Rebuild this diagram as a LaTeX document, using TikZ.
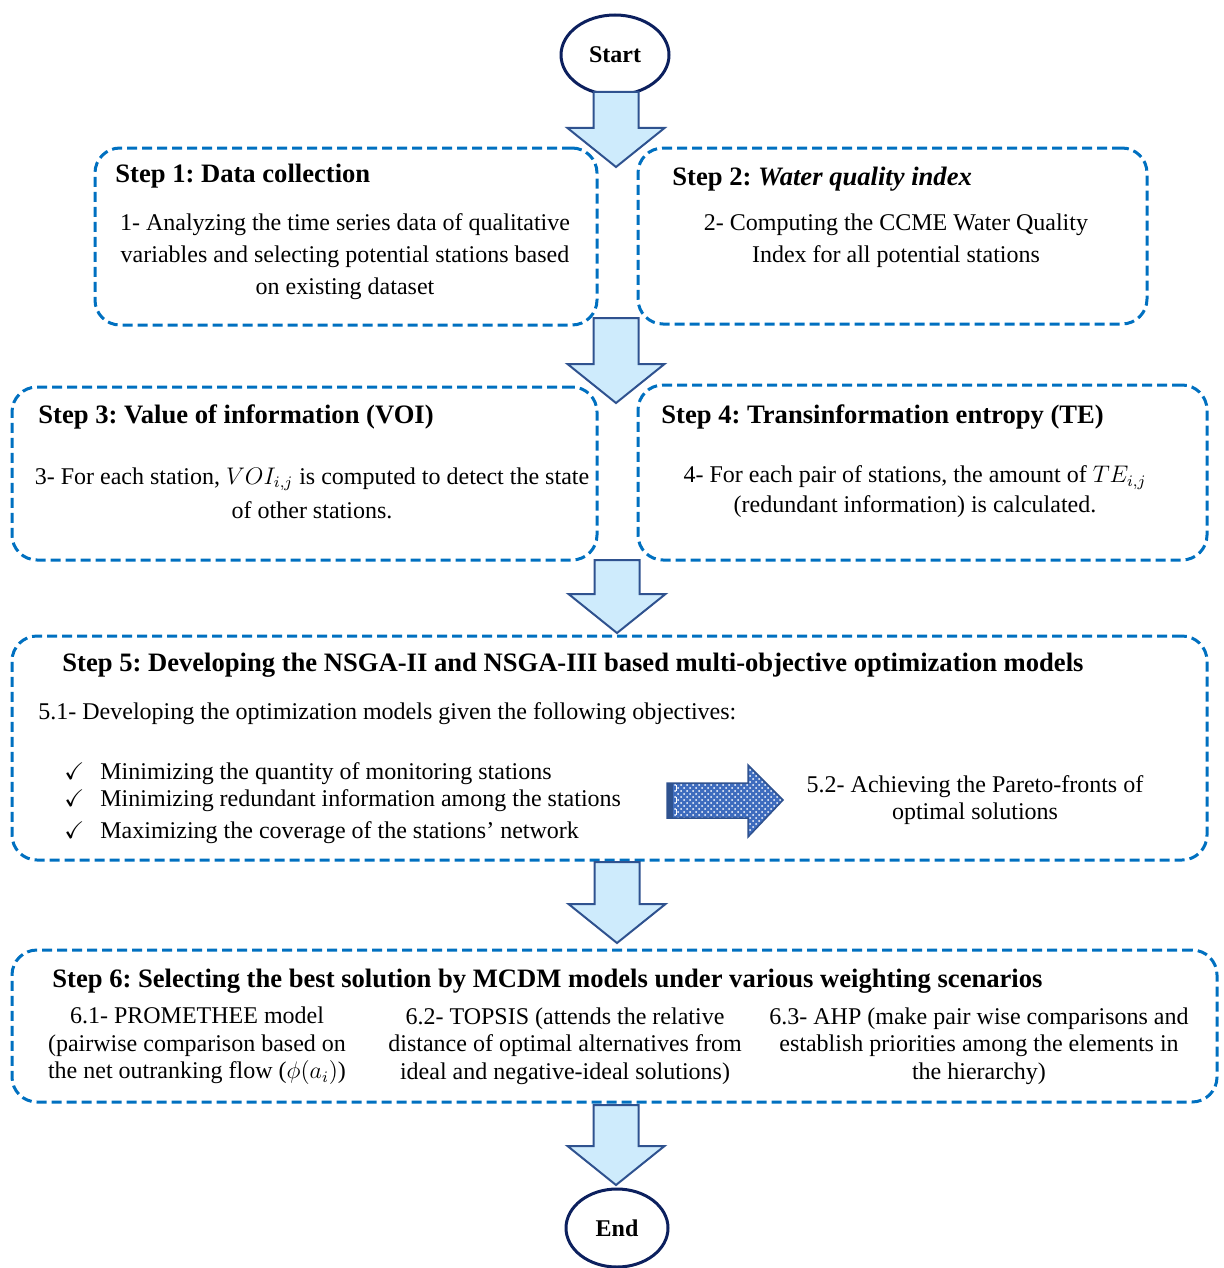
\documentclass[tikz,border=0pt]{standalone}
\usepackage{fontspec}
\setmainfont{Liberation Serif}
\usepackage{amssymb}
\usetikzlibrary{shapes.geometric,patterns}
\frenchspacing

\definecolor{boxblue}{RGB}{0,112,192}
\definecolor{arrowfill}{RGB}{206,235,252}
\definecolor{arrowline}{RGB}{47,82,143}
\definecolor{navy}{RGB}{12,32,94}
\definecolor{patblue}{RGB}{62,108,190}

\tikzset{
  stepbox/.style={draw=boxblue, line width=1.5pt, dash pattern=on 5pt off 2.5pt,
    rounded corners=12.5pt, inner sep=0pt},
  terminal/.style={ellipse, draw=navy, line width=1.5pt, fill=white, inner sep=0pt,
    font=\fontsize{12}{14}\selectfont\bfseries},
  arrowbody/.style={draw=arrowline, fill=arrowfill, line width=1pt, line join=miter},
  pics/downarrow/.style={code={
    \path[arrowbody] (-22.5,0) -- (22.5,0) -- (22.5,#1-39) -- (48.5,#1-39)
      -- (0,#1) -- (-48.5,#1-39) -- (-22.5,#1-39) -- cycle;
  }},
  steptitle/.style={anchor=west, inner sep=0pt, font=\fontsize{13.3}{15}\selectfont\bfseries},
  steptext/.style={align=center, inner sep=0pt, font=\fontsize{12}{16}\selectfont},
  objective/.style={anchor=west, inner sep=0pt, font=\fontsize{12}{14}\selectfont},
}

\begin{document}
\begin{tikzpicture}[x=0.5pt, y=-0.5pt]
    \useasboundingbox (0,0) rectangle (1223,1268);

    % ============================================================
    % STEP BOXES
    % ============================================================
    \node[stepbox, minimum width=251pt, minimum height=88.5pt] (s1) at (346,236.5) {};
    \node[stepbox, minimum width=254.5pt, minimum height=88pt] (s2) at (892.5,236) {};
    \node[stepbox, minimum width=292.5pt, minimum height=86.5pt] (s3) at (304.5,473.5) {};
    \node[stepbox, minimum width=284.5pt, minimum height=87.5pt] (s4) at (922.5,472.5) {};
    \node[stepbox, minimum width=597.5pt, minimum height=112pt] (s5) at (609.5,748) {};
    \node[stepbox, minimum width=602.5pt, minimum height=76pt] (s6) at (614.5,1026) {};

    % ============================================================
    % START / END
    % ============================================================
    \node[terminal, minimum width=54pt, minimum height=40pt] (start) at (615,55) {Start};
    \node[terminal, minimum width=51pt, minimum height=39pt] (end) at (617,1228) {End};

    % ============================================================
    % BLOCK ARROWS
    % ============================================================
    \pic at (616,92) {downarrow=75};
    \pic at (616,318) {downarrow=85};
    \pic at (617,560) {downarrow=73};
    \pic at (617,862) {downarrow=81};
    \pic at (616,1105) {downarrow=80};

    \begin{scope}[yshift=-1.5pt]
    % ============================================================
    % STEP 1 AND STEP 2
    % ============================================================
    \node[steptitle] (t1) at (115,173) {Step 1: Data collection};
    \node[steptext] (b1) at (345,254)
        {1- Analyzing the time series data of qualitative\\
         variables and selecting potential stations based\\
         on existing dataset};
    \node[steptitle] (t2) at (672,176) {Step 2: \textit{Water quality index}};
    \node[steptext] (b2) at (896,238)
        {2- Computing the CCME Water Quality\\
         Index for all potential stations};

    % ============================================================
    % STEP 3 AND STEP 4
    % ============================================================
    \node[steptitle] (t3) at (38,414) {Step 3: Value of information (VOI)};
    \node[steptext, font=\fontsize{12}{17}\selectfont] (b3) at (312,490)
        {3- For each station, $VOI_{i,j}$ is computed to detect the state\\
         of other stations.};
    \node[steptitle] (t4) at (661,414) {Step 4: Transinformation entropy (TE)};
    \node[steptext, font=\fontsize{12}{15}\selectfont] (b4) at (915,489)
        {4- For each pair of stations, the amount of $TE_{i,j}$\\
         (redundant information) is calculated.};

    % ============================================================
    % STEP 5
    % ============================================================
    \node[steptitle] (t5) at (62,662)
        {Step 5: Developing the NSGA-II and NSGA-III based multi-objective optimization models};
    \node[objective] (b5) at (38,711)
        {5.1- Developing the optimization models given the following objectives:};
    \node[objective] (o1) at (64,771) {$\checkmark$\hspace{8pt}Minimizing the quantity of monitoring stations};
    \node[objective] (o2) at (64,798) {$\checkmark$\hspace{8pt}Minimizing redundant information among the stations};
    \node[objective] (o3) at (64,830) {$\checkmark$\hspace{8pt}Maximizing the coverage of the stations' network};
    \node[steptext, font=\fontsize{12}{13.5}\selectfont] (b52) at (975,797)
        {5.2- Achieving the Pareto-fronts of\\ optimal solutions};

    % ============================================================
    % STEP 6
    % ============================================================
    \node[steptitle] (t6) at (52,978)
        {Step 6: Selecting the best solution by MCDM models under various weighting scenarios};
    \node[steptext, font=\fontsize{12}{13.75}\selectfont] (c61) at (197,1043)
        {6.1- PROMETHEE model\\ (pairwise comparison based on\\
         the net outranking flow ($\phi(a_i)$)};
    \node[steptext, font=\fontsize{12}{13.75}\selectfont] (c62) at (565,1043)
        {6.2- TOPSIS (attends the relative\\ distance of optimal alternatives from\\
         ideal and negative-ideal solutions)};
    \node[steptext, font=\fontsize{12}{13.75}\selectfont] (c63) at (979,1043)
        {6.3- AHP (make pair wise comparisons and\\ establish priorities among the elements in\\
         the hierarchy)};
    \end{scope}

    % patterned arrow towards the Pareto fronts
    \path[draw=arrowline, line width=0.75pt, preaction={fill=patblue},
        pattern=crosshatch dots, pattern color=white]
        (667,783) -- (748,783) -- (748,765) -- (783,800) -- (748,837)
        -- (748,818) -- (667,818) -- cycle;
    \fill[arrowline] (667,783) rectangle (673,818);
    \draw[white, dashed, line width=0.5pt] (676,785) -- (676,816);

\end{tikzpicture}
\end{document}
